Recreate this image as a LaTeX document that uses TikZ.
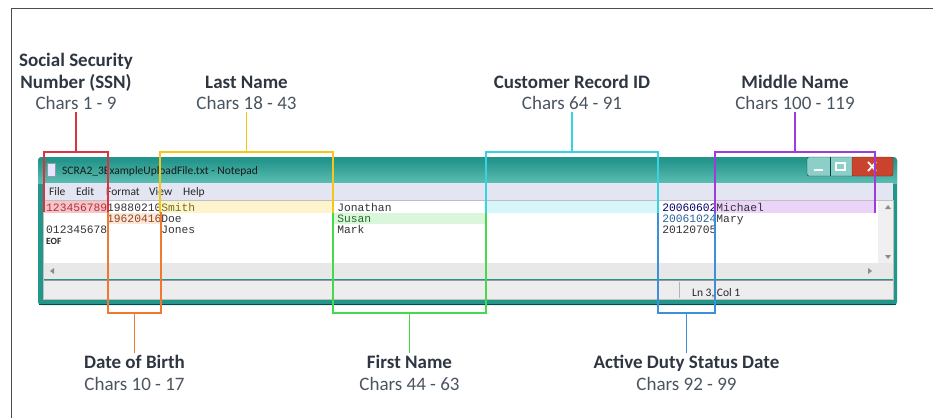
\documentclass[tikz,border=0pt]{standalone}
\usepackage{fontspec}
\setmainfont{Carlito}
\newfontfamily\monofont{Liberation Mono}
\usetikzlibrary{positioning}

\definecolor{ssnc}{HTML}{D9343F}
\definecolor{dobc}{HTML}{F07830}
\definecolor{lastc}{HTML}{F5C71A}
\definecolor{firstc}{HTML}{45D94E}
\definecolor{custc}{HTML}{38D3E3}
\definecolor{dutyc}{HTML}{3B8FDB}
\definecolor{midc}{HTML}{A03BDB}
\definecolor{headc}{HTML}{2E3642}
\definecolor{charc}{HTML}{4A5460}
\definecolor{tealdark}{HTML}{23958A}
\definecolor{teallight}{HTML}{5DBDB3}
\definecolor{menuc}{HTML}{E3E6F2}
\definecolor{closec}{HTML}{C9432D}
\definecolor{btnc}{HTML}{8CCFC8}
\definecolor{txtc}{HTML}{303438}

\tikzset{
  span/.style={inner sep=0pt, outer sep=0pt},
  bracket/.style={line width=1.6pt},
  lbl/.style={align=center, inner sep=2pt, font=\fontsize{19}{21.5}\selectfont},
  mono/.style={anchor=base west, inner sep=0pt, font=\monofont\fontsize{11.3}{11}\selectfont},
  ui/.style={anchor=base west, inner sep=0pt, text=black!85, font=\fontsize{11.5}{12}\selectfont}
}

\newcommand\lbltext[2]{{\bfseries\color{headc}#1}\\{\color{charc}#2}}

\begin{document}
\begin{tikzpicture}[x=1pt, y=-1pt]
  \useasboundingbox (0,0) rectangle (933,418);
  \draw [black!70, line width=1.4pt] (11.5,418) -- (11.5,8.5) -- (933,8.5);

  % notepad window
  \fill [tealdark, rounded corners=3pt] (38,157) rectangle (897,305);
  \shade [top color=tealdark, bottom color=teallight] (38,160) rectangle (897,183);
  \fill [menuc] (43,183) rectangle (893,200);
  \fill [white] (43,200) rectangle (893,263);
  \fill [black!6] (878,200) rectangle (893,263);
  \fill [black!9] (43,263) rectangle (893,279);
  \fill [black!7] (43,280) rectangle (893,299);
  \draw [black!40] (43,280) -- (893,280);
  \draw [black!30] (679,282) -- (679,298);
  \draw [teal!60!black, line width=0.8pt] (39,304) -- (896,304);
  \draw [black!25] (43,200) rectangle (893,299);

  % title bar
  \fill [white!90!blue, draw=black!40] (47,163) rectangle (55,176);
  \node [ui, text=black!90] (title) at (62,174) {SCRA2\_3ExampleUploadFile.txt - Notepad};
  \fill [btnc, draw=teal!50!black, rounded corners=2pt] (807,157) rectangle (854,176);
  \draw [teal!50!black] (830,157) -- (830,176);
  \fill [closec, draw=closec!60!black, rounded corners=2pt] (852,157) rectangle (893,176);
  \draw [white, line width=2pt] (814,170) -- (823,170);
  \draw [white, line width=1.2pt] (836,163) rectangle (845,170);
  \draw [white, line width=1.8pt] (868,162) -- (876,171) (876,162) -- (868,171);

  % menu
  \node [ui] (mfile) at (49,195) {File};
  \node [ui] (medit) at (76,195) {Edit};
  \node [ui] (mformat) at (106,195) {Format};
  \node [ui] (mview) at (149,195) {View};
  \node [ui] (mhelp) at (183,195) {Help};

  % scroll arrows and status
  \fill [black!45] (885,209) -- (891,209) -- (888,205) -- cycle;
  \fill [black!45] (885,255) -- (891,255) -- (888,259) -- cycle;
  \fill [black!45] (54,268) -- (54,274) -- (50,271) -- cycle;
  \fill [black!45] (868,268) -- (868,274) -- (872,271) -- cycle;
  \node [ui] (status) at (692,296) {Ln 3, Col 1};

  % highlighted fields
  \fill [ssnc!28] (44,201) rectangle (108,213);
  \fill [lastc!22] (161,201) rectangle (333,213);
  \fill [custc!20] (486,201) rectangle (658,213);
  \fill [midc!22] (715,201) rectangle (875,213);
  \fill [dobc!18] (108,213) rectangle (161,224);
  \fill [firstc!20] (333,213) rectangle (486,224);

  % records
  \foreach \row/\col/\clr/\txt in {1/1/ssnc!85!black/123456789, 1/10/txtc/19880210,
      1/18/olive!80!black/Smith, 1/44/txtc/Jonathan, 1/92/blue!40!black/20060602,
      1/100/txtc/Michael, 2/10/dobc!60!black/19620416, 2/18/txtc/Doe,
      2/44/firstc!50!black/Susan, 2/92/dutyc!70!black/20061024, 2/100/txtc/Mary,
      3/1/txtc/012345678, 3/18/txtc/Jones, 3/44/txtc/Mark, 3/92/txtc/20120705}
    \node [mono, text=\clr] (rec-\row-\col) at ({46+(\col-1)*6.77}, {200+\row*11}) {\txt};
  \node [ui, font=\bfseries\fontsize{9.5}{10}\selectfont] (eof) at (46,244) {EOF};

  % field brackets
  \node [span, minimum width=64pt, minimum height=60pt] (ssnbox) at (76,182) {};
  \node [span, minimum width=173pt, minimum height=61pt] (lastbox) at (246.5,182.5) {};
  \node [span, minimum width=172pt, minimum height=61pt] (custbox) at (572,182.5) {};
  \node [span, minimum width=160pt, minimum height=61pt] (midbox) at (795,182.5) {};
  \node [span, minimum width=53pt, minimum height=101pt] (dobbox) at (134.5,262.5) {};
  \node [span, minimum width=153pt, minimum height=100pt] (firstbox) at (409.5,263) {};
  \node [span, minimum width=57pt, minimum height=100pt] (dutybox) at (686.5,263) {};

  \foreach \b/\c in {ssnbox/ssnc, lastbox/lastc, custbox/custc, midbox/midc}
    \draw [bracket, \c] (\b.south west) -- (\b.north west) -- (\b.north east) -- (\b.south east);
  \foreach \b/\c in {dobbox/dobc, firstbox/firstc, dutybox/dutyc}
    \draw [bracket, \c] (\b.north west) -- (\b.south west) -- (\b.south east) -- (\b.north east);

  % labels
  \node [lbl, above=40pt of ssnbox] (ssnlbl) {\bfseries\color{headc}Social Security\\\lbltext{Number (SSN)}{Chars 1 - 9}};
  \node [lbl, above=40pt of lastbox] (lastlbl) {\lbltext{Last Name}{Chars 18 - 43}};
  \node [lbl, above=40pt of custbox] (custlbl) {\lbltext{Customer Record ID}{Chars 64 - 91}};
  \node [lbl, above=40pt of midbox] (midlbl) {\lbltext{Middle Name}{Chars 100 - 119}};
  \node [lbl, below=40pt of dobbox] (doblbl) {\lbltext{Date of Birth}{Chars 10 - 17}};
  \node [lbl, below=40pt of firstbox] (firstlbl) {\lbltext{First Name}{Chars 44 - 63}};
  \node [lbl, below=40pt of dutybox] (dutylbl) {\lbltext{Active Duty Status Date}{Chars 92 - 99}};

  \draw [bracket, ssnc] (ssnbox) -- (ssnlbl);
  \draw [bracket, lastc] (lastbox) -- (lastlbl);
  \draw [bracket, custc] (custbox) -- (custlbl);
  \draw [bracket, midc] (midbox) -- (midlbl);
  \draw [bracket, dobc] (dobbox) -- (doblbl);
  \draw [bracket, firstc] (firstbox) -- (firstlbl);
  \draw [bracket, dutyc] (dutybox) -- (dutylbl);
\end{tikzpicture}
\end{document}
